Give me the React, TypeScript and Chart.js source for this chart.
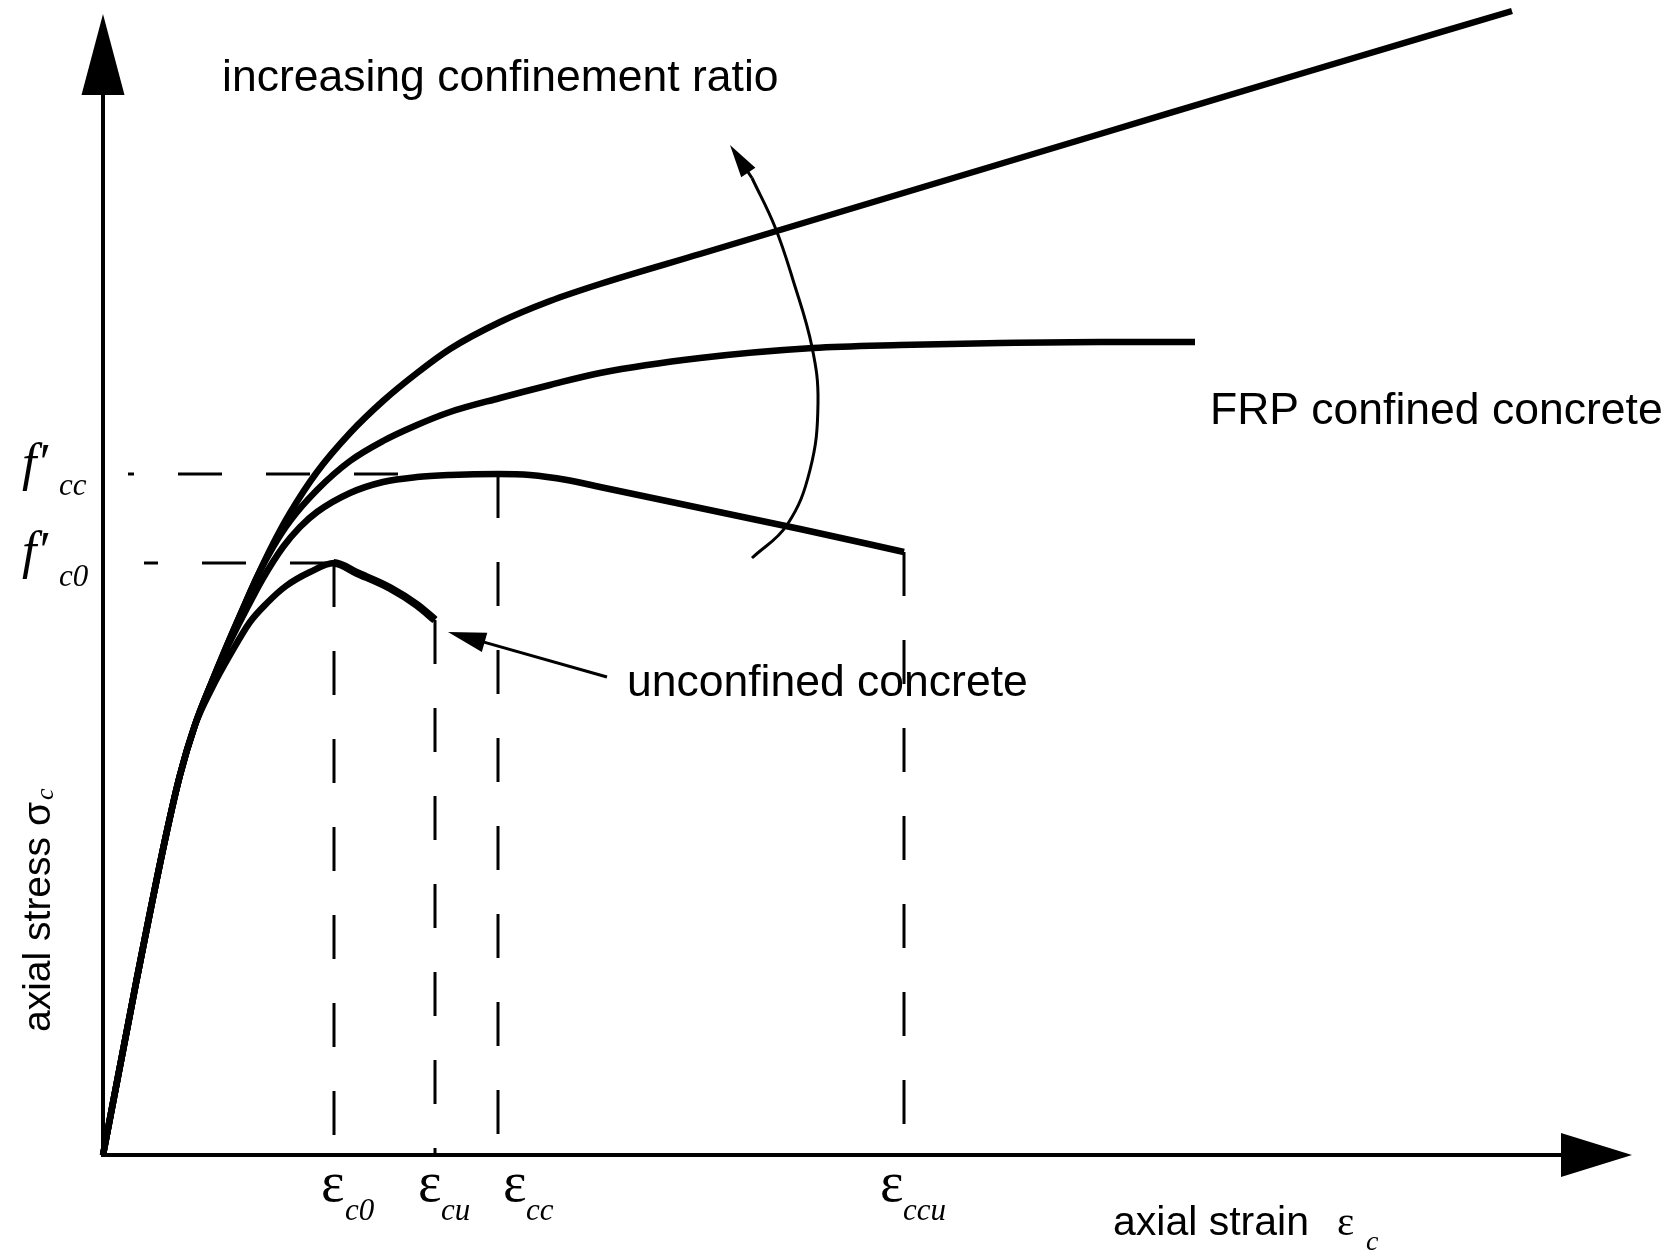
import React, { useEffect, useRef } from "react";
import { Chart, registerables } from "chart.js";

Chart.register(...registerables);

// Schematic stress–strain curves (arbitrary units)
const unconfinedStrain = [0, 0.33, 0.62, 0.77, 0.92, 1.09, 1.27, 1.47, 1.64, 1.83, 2.07, 2.31, 2.54, 2.87, 3.14, 3.32];
const unconfinedStress = [0, 1.72, 3.15, 3.8, 4.3, 4.67, 5.0, 5.33, 5.52, 5.69, 5.83, 5.92, 5.82, 5.67, 5.5, 5.35];

const softeningStrain = [0, 0.33, 0.62, 0.77, 0.92, 1.08, 1.23, 1.41, 1.59, 1.8, 1.97, 2.14, 2.47, 2.8, 3.14, 3.47, 3.95, 4.27, 4.64, 4.97, 5.97, 6.97, 8.01];
const softeningStress = [0, 1.72, 3.15, 3.8, 4.3, 4.71, 5.05, 5.41, 5.75, 6.08, 6.28, 6.43, 6.62, 6.73, 6.78, 6.8, 6.81, 6.8, 6.75, 6.68, 6.47, 6.26, 6.03];

const flatStrain = [0, 0.33, 0.62, 0.77, 0.92, 1.08, 1.22, 1.38, 1.55, 1.7, 1.87, 2.14, 2.47, 2.8, 3.14, 3.47, 3.97, 4.47, 4.97, 5.97, 7.1, 7.97, 8.97, 9.97, 10.92];
const flatStress = [0, 1.72, 3.15, 3.8, 4.3, 4.71, 5.05, 5.42, 5.8, 6.08, 6.34, 6.65, 6.94, 7.14, 7.3, 7.43, 7.57, 7.7, 7.82, 7.97, 8.07, 8.1, 8.12, 8.13, 8.13];

const hardeningStrain = [0, 0.33, 0.62, 0.77, 0.92, 1.08, 1.22, 1.38, 1.55, 1.7, 1.87, 2.14, 2.47, 2.8, 3.14, 3.47, 3.97, 4.47, 4.97, 5.97, 7.97, 9.97, 11.97, 14.09];
const hardeningStress = [0, 1.72, 3.15, 3.8, 4.3, 4.71, 5.05, 5.42, 5.8, 6.11, 6.42, 6.83, 7.22, 7.54, 7.82, 8.06, 8.33, 8.54, 8.71, 9.01, 9.61, 10.21, 10.81, 11.44];

// characteristic points
const epsC0 = 2.31;
const epsCu = 3.32;
const epsCc = 3.95;
const epsCcu = 8.01;
const fC0 = 5.92;
const fCc = 6.81;
const fCuStress = 5.35;
const fCcuStress = 6.03;
const fC0DashStart = 0.41;
const fCcDash = [2.95, 0.25];

// "increasing confinement ratio" arc
const arcStrain = [6.49, 6.84, 7.07, 7.15, 7.09, 6.9, 6.72, 6.49];
const arcStress = [5.97, 6.3, 6.85, 7.52, 8.08, 8.75, 9.28, 9.77];
const arcTip = [6.27, 10.1];

// "unconfined concrete" pointer
const pointerTail = [5.04, 4.78];
const pointerTip = [3.45, 5.23];

// axes extents
const xAxisMax = 15.69;
const yAxisMax = 11.55;
const xArrowBase = 14.58;
const xArrowTip = 15.29;
const yArrowBase = 10.6;
const yArrowTip = 11.41;

// labels
const strainLabels = ["c0", "cu", "cc", "ccu"];
const stressLabels = ["cc", "c0"];

const zip = (xs: number[], ys: number[]) => xs.map((x, i) => ({ x, y: ys[i] }));

const SANS = '"Liberation Sans", Arial, Helvetica, sans-serif';
const SERIF = '"Liberation Serif", "Times New Roman", serif';

function head(ctx: CanvasRenderingContext2D, tx: number, ty: number, fx: number, fy: number, len: number, half: number) {
  const a = Math.atan2(ty - fy, tx - fx);
  const bx = tx - len * Math.cos(a);
  const by = ty - len * Math.sin(a);
  ctx.beginPath();
  ctx.moveTo(tx, ty);
  ctx.lineTo(bx + half * Math.sin(a), by - half * Math.cos(a));
  ctx.lineTo(bx - half * Math.sin(a), by + half * Math.cos(a));
  ctx.closePath();
  ctx.fill();
}

const decorPlugin = {
  id: "decor",
  beforeDatasetsDraw(chart: any) {
    const ctx: CanvasRenderingContext2D = chart.ctx;
    const xs = chart.scales.x;
    const ys = chart.scales.y;
    const ox = xs.getPixelForValue(0);
    const oy = ys.getPixelForValue(0);
    ctx.save();
    ctx.strokeStyle = "#000";
    ctx.fillStyle = "#000";
    ctx.lineWidth = 4;
    ctx.lineCap = "butt";
    ctx.beginPath();
    ctx.moveTo(ox, oy + 2);
    ctx.lineTo(ox, ys.getPixelForValue(yArrowBase));
    ctx.stroke();
    ctx.beginPath();
    ctx.moveTo(ox - 2, oy);
    ctx.lineTo(xs.getPixelForValue(xArrowBase), oy);
    ctx.stroke();
    const yt = ys.getPixelForValue(yArrowTip);
    const yb = ys.getPixelForValue(yArrowBase);
    head(ctx, ox, yt, ox, yb, yb - yt, 21.5);
    const xt = xs.getPixelForValue(xArrowTip);
    const xb = xs.getPixelForValue(xArrowBase);
    head(ctx, xt, oy, xb, oy, xt - xb, 22);
    ctx.restore();
  },
  afterDraw(chart: any) {
    const ctx: CanvasRenderingContext2D = chart.ctx;
    const xs = chart.scales.x;
    const ys = chart.scales.y;
    ctx.save();
    ctx.fillStyle = "#000";
    ctx.strokeStyle = "#000";

    // arc arrow head
    const ax0 = xs.getPixelForValue(arcStrain[arcStrain.length - 1]);
    const ay0 = ys.getPixelForValue(arcStress[arcStress.length - 1]);
    const atx = xs.getPixelForValue(arcTip[0]);
    const aty = ys.getPixelForValue(arcTip[1]);
    ctx.lineWidth = 3;
    ctx.beginPath();
    ctx.moveTo(ax0, ay0);
    ctx.lineTo(atx + (ax0 - atx) * 0.6, aty + (ay0 - aty) * 0.6);
    ctx.stroke();
    head(ctx, atx, aty, ax0, ay0, 33, 8.5);

    // pointer arrow
    const ptx = xs.getPixelForValue(pointerTip[0]);
    const pty = ys.getPixelForValue(pointerTip[1]);
    const plx = xs.getPixelForValue(pointerTail[0]);
    const ply = ys.getPixelForValue(pointerTail[1]);
    const pa = Math.atan2(pty - ply, ptx - plx);
    ctx.lineWidth = 3;
    ctx.beginPath();
    ctx.moveTo(plx, ply);
    ctx.lineTo(ptx - 30 * Math.cos(pa), pty - 30 * Math.sin(pa));
    ctx.stroke();
    head(ctx, ptx, pty, plx, ply, 38, 10);

    // annotations
    ctx.textBaseline = "alphabetic";
    ctx.textAlign = "left";
    ctx.font = `44.5px ${SANS}`;
    ctx.fillText("increasing confinement ratio", 222, 91);
    ctx.fillText("FRP confined concrete", 1210, 424);
    ctx.fillText("unconfined concrete", 627, 696);

    // x-axis title
    ctx.font = `41px ${SANS}`;
    ctx.fillText("axial strain", 1113, 1235);
    ctx.font = `41px ${SERIF}`;
    ctx.fillText("ε", 1337, 1235);
    ctx.font = `italic 28px ${SERIF}`;
    ctx.fillText("c", 1366, 1250);

    // y-axis title
    ctx.save();
    ctx.translate(50, 1032);
    ctx.rotate(-Math.PI / 2);
    ctx.font = `39px ${SANS}`;
    ctx.fillText("axial stress σ", 0, 0);
    const w = ctx.measureText("axial stress σ").width;
    ctx.font = `italic 26px ${SERIF}`;
    ctx.fillText("c", w + 2, 3);
    ctx.restore();

    // strain labels
    const epsX = [321, 418, 503, 880];
    const subX = [345, 441, 526, 903];
    strainLabels.forEach((sub, i) => {
      ctx.font = `56px ${SERIF}`;
      ctx.fillText("ε", epsX[i], 1201);
      ctx.font = `italic 31px ${SERIF}`;
      ctx.fillText(sub, subX[i], 1220);
    });

    // stress labels
    const fBase = [480, 568];
    const fSub = [495, 586];
    stressLabels.forEach((sub, i) => {
      ctx.font = `italic 52px ${SERIF}`;
      ctx.fillText("f\u2032", 22, fBase[i]);
      ctx.font = `italic 31px ${SERIF}`;
      ctx.fillText(sub, 59, fSub[i]);
    });
    ctx.restore();
  },
};

export default function App() {
  const ref = useRef<HTMLCanvasElement | null>(null);
  useEffect(() => {
    if (!ref.current) return;
    const solid = (data: any[], width: number, extra: any = {}) => ({
      data,
      borderColor: "#000",
      borderWidth: width,
      pointRadius: 0,
      fill: false,
      clip: false,
      borderJoinStyle: "round",
      borderCapStyle: "butt",
      ...extra,
    });
    const dashed = (data: any[]) => solid(data, 3, { borderDash: [44, 44], tension: 0 });
    const chart = new Chart(ref.current, {
      type: "line",
      data: {
        datasets: [
          solid(zip(hardeningStrain, hardeningStress), 6.5, { cubicInterpolationMode: "monotone" }),
          solid(zip(flatStrain, flatStress), 6.5, { cubicInterpolationMode: "monotone" }),
          solid(zip(softeningStrain, softeningStress), 6.5, { cubicInterpolationMode: "monotone" }),
          solid(zip(unconfinedStrain, unconfinedStress), 6.5, {
            cubicInterpolationMode: "monotone",
            segment: { borderWidth: (c: any) => (c.p0.parsed.x >= epsC0 ? 8 : 6.5) },
          }),
          solid(zip(arcStrain, arcStress), 3, { tension: 0.4 }),
          dashed([{ x: epsC0, y: fC0 }, { x: fC0DashStart, y: fC0 }]),
          dashed([{ x: fCcDash[0], y: fCc }, { x: fCcDash[1], y: fCc }]),
          dashed([{ x: epsC0, y: fC0 }, { x: epsC0, y: 0 }]),
          dashed([{ x: epsCu, y: fCuStress }, { x: epsCu, y: 0 }]),
          dashed([{ x: epsCc, y: fCc }, { x: epsCc, y: 0 }]),
          dashed([{ x: epsCcu, y: fCcuStress }, { x: epsCcu, y: 0 }]),
        ],
      },
      options: {
        animation: false,
        responsive: false,
        devicePixelRatio: 1,
        layout: { padding: { left: 103, top: 0, right: 0, bottom: 99 } },
        scales: {
          x: { type: "linear", display: false, min: 0, max: xAxisMax },
          y: { type: "linear", display: false, min: 0, max: yAxisMax },
        },
        plugins: { legend: { display: false }, tooltip: { enabled: false } },
        events: [],
      },
      plugins: [decorPlugin],
    } as any);
    return () => chart.destroy();
  }, []);
  return (
    <div style={{ position: "absolute", left: 0, top: 0, width: 1672, height: 1254, background: "#fff" }}>
      <canvas ref={ref} width={1672} height={1254} style={{ width: 1672, height: 1254, display: "block" }} />
    </div>
  );
}
